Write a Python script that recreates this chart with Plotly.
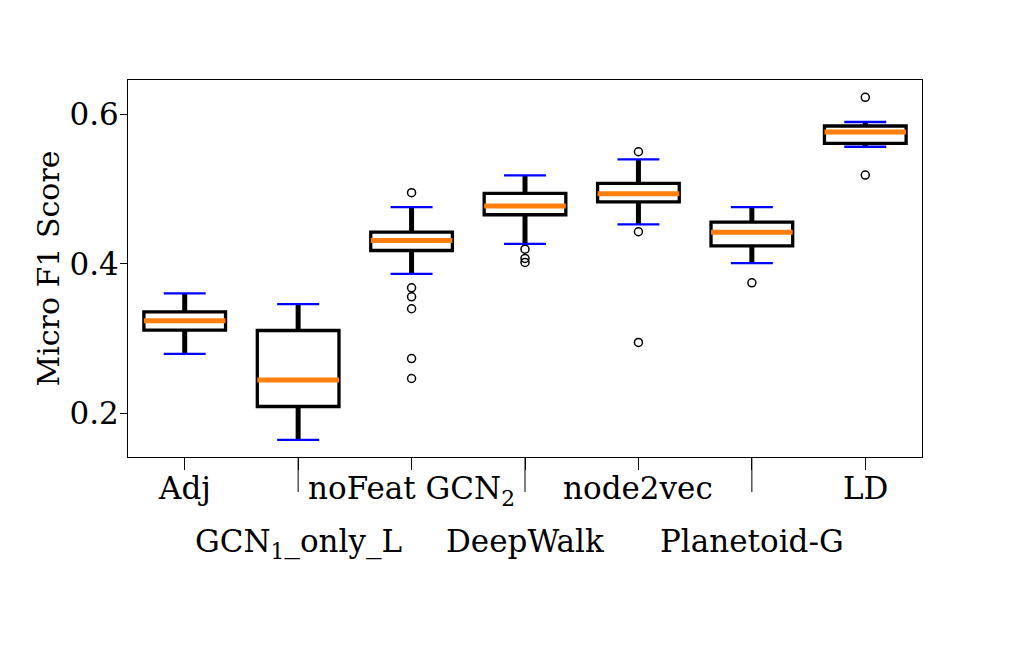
import plotly.graph_objects as go

# per-method box statistics
labels = ["Adj", "GCN<sub>1</sub>_only_L", "noFeat GCN<sub>2</sub>", "DeepWalk",
          "node2vec", "Planetoid-G", "LD"]
positions = [1, 2, 3, 4, 5, 6, 7]
lower_whisker = [0.2798, 0.1649, 0.3867, 0.4267, 0.4526, 0.4009, 0.5563]
q1 = [0.3114, 0.2095, 0.4178, 0.4655, 0.4828, 0.4240, 0.5609]
median = [0.3239, 0.2450, 0.4312, 0.4771, 0.4935, 0.4420, 0.5760]
q3 = [0.3359, 0.3110, 0.4424, 0.4940, 0.5074, 0.4557, 0.5840]
upper_whisker = [0.3605, 0.3462, 0.4758, 0.5180, 0.5395, 0.4758, 0.5893]
outliers = [
    [],
    [],
    [0.4949, 0.3680, 0.3560, 0.3400, 0.2735, 0.2469],
    [0.4196, 0.4072, 0.4019],
    [0.5496, 0.4428, 0.2950],
    [0.3746],
    [0.6223, 0.5185],
]

box_w = 0.72
cap_w = 0.37
font = "DejaVu Serif"

fig = go.Figure()

fig.add_trace(go.Box(x=positions, q1=q1, median=median, q3=q3,
                     lowerfence=lower_whisker, upperfence=upper_whisker,
                     boxpoints=False, width=box_w, whiskerwidth=0,
                     line=dict(color="black", width=3.3),
                     fillcolor="rgba(0,0,0,0)", hoverinfo="skip",
                     showlegend=False))

# thicker whiskers, orange medians and blue whisker caps
wh_x, wh_y, med_x, med_y, cap_x, cap_y = [], [], [], [], [], []
for p, lo, a, m, b, hi in zip(positions, lower_whisker, q1, median, q3, upper_whisker):
    wh_x += [p, p, None, p, p, None]
    wh_y += [lo, a, None, b, hi, None]
    med_x += [p - box_w / 2, p + box_w / 2, None]
    med_y += [m, m, None]
    for v in (lo, hi):
        cap_x += [p - cap_w / 2, p + cap_w / 2, None]
        cap_y += [v, v, None]

fig.add_trace(go.Scatter(x=wh_x, y=wh_y, mode="lines",
                         line=dict(color="black", width=5),
                         hoverinfo="skip", showlegend=False))
fig.add_trace(go.Scatter(x=med_x, y=med_y, mode="lines",
                         line=dict(color="#ff7f0e", width=5),
                         hoverinfo="skip", showlegend=False))
fig.add_trace(go.Scatter(x=cap_x, y=cap_y, mode="lines",
                         line=dict(color="blue", width=2.3),
                         hoverinfo="skip", showlegend=False))

out_x, out_y = [], []
for p, pts in zip(positions, outliers):
    out_x += [p] * len(pts)
    out_y += pts
fig.add_trace(go.Scatter(x=out_x, y=out_y, mode="markers",
                         marker=dict(symbol="circle-open", size=8, color="black",
                                     line=dict(width=1.5)),
                         hoverinfo="skip", showlegend=False))

# staggered category labels: every second one goes on a lower row,
# with a longer tick reaching down to it
for i, (p, t) in enumerate(zip(positions, labels)):
    lower = i % 2 == 1
    fig.add_annotation(x=p, xref="x", y=0, yref="paper", text=t,
                       showarrow=False, xanchor="center", yanchor="top",
                       yshift=-64 if lower else -11,
                       font=dict(family=font, size=31, color="black"))
    if lower:
        fig.add_shape(type="line", xref="x", yref="paper", x0=p, x1=p,
                      y0=0, y1=-0.093, line=dict(color="black", width=1))

fig.update_layout(
    width=1025, height=672,
    margin=dict(l=120, r=111, t=72, b=223),
    plot_bgcolor="white", paper_bgcolor="white",
    font=dict(family=font, size=31, color="black"),
    xaxis=dict(range=[0.5, 7.5], tickmode="array", tickvals=positions,
               showticklabels=False, automargin=False,
               ticks="outside", ticklen=12, tickwidth=1,
               tickcolor="black", showline=True, linecolor="black",
               linewidth=1, mirror=True, showgrid=False, zeroline=False),
    yaxis=dict(range=[0.1421, 0.6454], tickvals=[0.2, 0.4, 0.6],
               tickformat=".1f", automargin=False, ticklabelstandoff=-5,
               ticks="outside", ticklen=7, tickwidth=1,
               tickcolor="black", showline=True, linecolor="black",
               linewidth=1, mirror=True, showgrid=False, zeroline=False,
               title=dict(text="Micro F1 Score", standoff=0,
                          font=dict(size=30))),
)

fig.write_html("out.html")
